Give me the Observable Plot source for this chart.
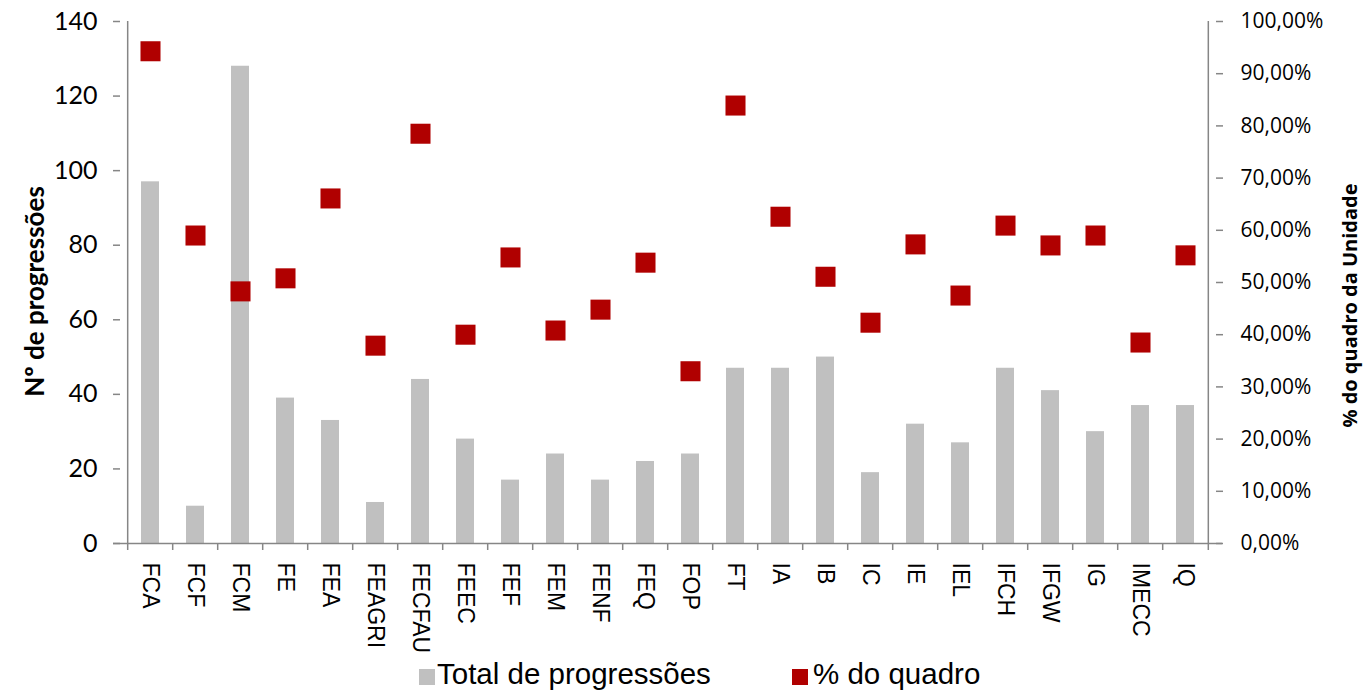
<!DOCTYPE html>
<html>
<head>
<meta charset="utf-8">
<script src="https://cdn.jsdelivr.net/npm/d3@7"></script>
<script src="https://cdn.jsdelivr.net/npm/@observablehq/plot@0.6"></script>
<style>
  html, body { margin: 0; padding: 0; background: white; }
  #wrap { position: relative; width: 1365px; height: 691px; overflow: hidden; }
  #chart svg { overflow: visible; display: block; }
  .leg { position: absolute; font-family: "Liberation Sans", Arial, sans-serif; font-size: 29.5px; color: #000; line-height: 1; white-space: nowrap; }
  .sw { position: absolute; width: 16px; height: 16px; }
</style>
</head>
<body>
<div id="wrap">
  <div id="chart"></div>
  <div class="sw" style="left:419px; top:669px; background:#c0c0c0"></div>
  <div class="leg" style="left:437px; top:659px">Total de progressões</div>
  <div class="sw" style="left:792px; top:669px; background:#b00000"></div>
  <div class="leg" style="left:813px; top:659px">% do quadro</div>
</div>
<script>
const categories = ["FCA","FCF","FCM","FE","FEA","FEAGRI","FECFAU","FEEC","FEF","FEM","FENF","FEQ","FOP","FT","IA","IB","IC","IE","IEL","IFCH","IFGW","IG","IMECC","IQ"];
const totals = [97,10,128,39,33,11,44,28,17,24,17,22,24,47,47,50,19,32,27,47,41,30,37,37];
const pcts = [94.3,59.0,48.3,50.8,66.1,37.9,78.5,40.0,54.8,40.8,44.8,53.8,33.0,83.9,62.6,51.1,42.3,57.3,47.5,60.9,57.1,59.0,38.5,55.2];
const leftTicks = [0,20,40,60,80,100,120,140];
const rightTicks = [0,10,20,30,40,50,60,70,80,90,100];

const data = categories.map((c, i) => ({cat: c, total: totals[i], pct: pcts[i]}));
const W = 1365, H = 650, mL = 120, mR = 150, mT = 21, mB = 107;
const step = (W - mL - mR) / categories.length;
const gray = "#868686";
const catFont = '"Liberation Sans", Arial, sans-serif';
const scaleR = 140 / 100;

const chart = Plot.plot({
  width: W, height: H,
  marginLeft: mL, marginRight: mR, marginTop: mT, marginBottom: mB,
  style: {background: "white", color: "black", fontFamily: "Lato, sans-serif", overflow: "visible"},
  x: {domain: categories, paddingInner: 0.6, paddingOuter: 0.3, axis: null},
  y: {domain: [0, 140], axis: null},
  marks: [
    Plot.barY(data, {x: "cat", y: "total", fill: "#c0c0c0"}),
    Plot.ruleX([categories[0]], {dx: -step / 2, y1: 0, y2: 140, stroke: gray, strokeWidth: 1.5}),
    Plot.ruleX([categories[categories.length - 1]], {dx: step / 2, y1: 0, y2: 140, stroke: gray, strokeWidth: 1.5}),
    Plot.ruleY([0], {stroke: gray, strokeWidth: 1.5, insetLeft: -7, insetRight: -7}),
    Plot.ruleX(categories, {dx: -step / 2, y1: 0, y2: 0, insetBottom: -7, stroke: gray, strokeWidth: 1.5}),
    Plot.ruleX([categories[categories.length - 1]], {dx: step / 2, y1: 0, y2: 0, insetBottom: -7, stroke: gray, strokeWidth: 1.5}),
    Plot.axisX({tickSize: 0, tickPadding: 19, tickRotate: 90, label: null, fontSize: 23, fontFamily: catFont, fill: "black", textOverflow: null, lineWidth: Infinity}),
    Plot.axisY(leftTicks, {anchor: "left", tickSize: 7, tickPadding: 16, stroke: gray, strokeWidth: 1.5, fill: "black", fontSize: 25, fontFamily: "Lato, sans-serif", label: null}),
    Plot.axisY(rightTicks.map(d => d * scaleR), {anchor: "right", tickSize: 7, tickPadding: 18, stroke: gray, strokeWidth: 1.5, fill: "black", fontSize: 21, fontFamily: '"Open Sans", sans-serif', label: null,
      tickFormat: d => (d / scaleR).toFixed(2).replace(".", ",") + "%"}),
    Plot.dot(data, {x: "cat", y: d => d.pct * scaleR, symbol: "square", r: 11.3, fill: "#b00000", stroke: null}),
    Plot.text(["Nº de progressões"], {frameAnchor: "left", dx: -85, dy: 9, rotate: -90, textAnchor: "middle", fontSize: 26, fontWeight: "bold", fontFamily: "Lato, sans-serif", fill: "black"}),
    Plot.text(["% do quadro da Unidade"], {frameAnchor: "right", dx: 135, dy: 23, rotate: -90, textAnchor: "middle", fontSize: 20, fontWeight: "bold", fontFamily: '"Open Sans", sans-serif', fill: "black"})
  ]
});
document.getElementById("chart").appendChild(chart);
</script>
</body>
</html>
